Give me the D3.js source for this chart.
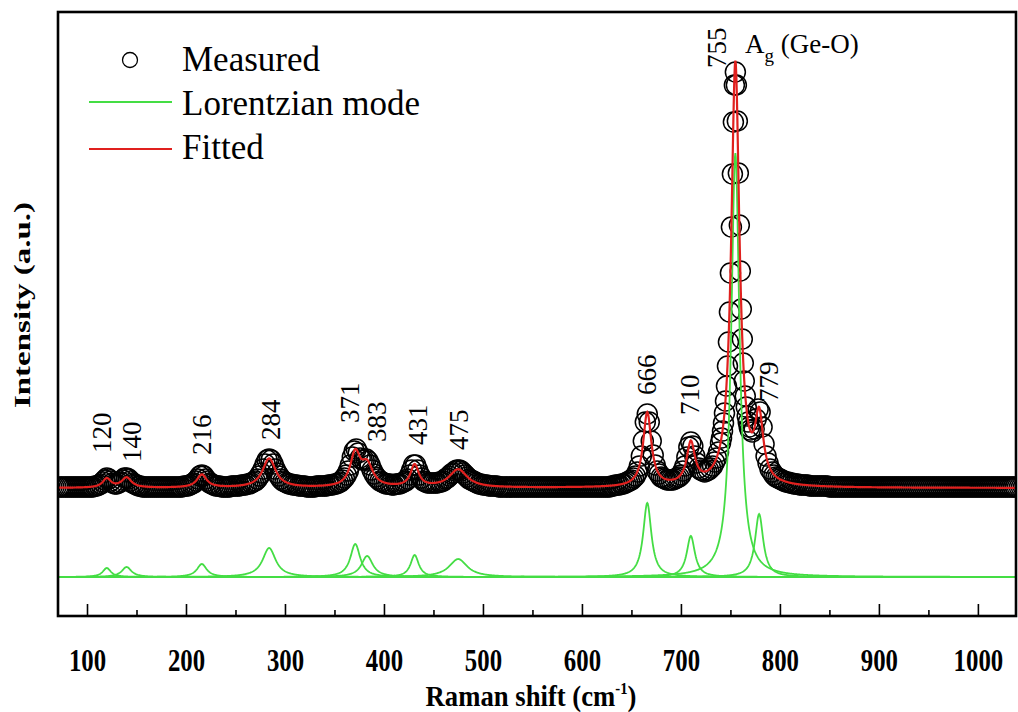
<!DOCTYPE html>
<html>
<head>
<meta charset="utf-8">
<script src="https://cdn.jsdelivr.net/npm/d3@7"></script>
<style>
  body { margin: 0; background: #fff; }
  text { font-family: 'Liberation Serif', 'Times New Roman', serif; }
</style>
</head>
<body>
<svg id="chart" width="1018" height="712"></svg>
<script>
// Lorentzian modes (position, height, half width)
const peakCenters = [120, 140, 216, 284, 371, 383, 431, 475, 666, 710, 755, 779];
const peakHeights = [9, 10, 13, 29, 33, 21, 22, 18, 74, 41, 424, 63];
const peakWidths = [5, 6, 6, 8, 6, 7, 5, 11, 5, 5, 5, 5];
const fitOffset = 89;

const majorTicks = [100, 200, 300, 400, 500, 600, 700, 800, 900, 1000];
const minorTicks = [150, 250, 350, 450, 550, 650, 750, 850, 950];

// label anchor (shift, intensity) for each peak label
const peakLabelAt = [
  [115, 124], [145.5, 115], [216, 122], [285, 137], [365.5, 154], [393, 135],
  [433.5, 132], [475, 127], [665.5, 182], [709, 162], [735.5, 509], [789, 175]
];

// measured spectrum [shift, intensity]
const measured = [
  [72,90],[74,90],[76,90],[78,90],[80,90],[82,90],[84,90],[86,90],[88,90],[90,90],[92,90],[94,90],
  [96,90],[98,90],[100,90],[102,90],[104,90],[106,90],[108,91],[110,91],[112,92],[114,93],[116,95],
  [118,97],[120,99],[122,98],[124,96],[126,94],[128,93],[130,93],[132,94],[134,95],[136,97],[138,99],
  [140,99],[142,98],[144,96],[146,94],[148,93],[150,92],[152,91],[154,91],[156,90],[158,90],[160,90],
  [162,90],[164,90],[166,90],[168,90],[170,90],[172,90],[174,90],[176,90],[178,90],[180,90],[182,90],
  [184,90],[186,90],[188,90],[190,90],[192,90],[194,90],[196,90],[198,91],[200,91],[202,91],[204,92],
  [206,93],[208,94],[210,96],[212,98],[214,101],[216,102],[218,101],[220,98],[222,96],[224,94],
  [226,93],[228,92],[230,91],[232,91],[234,91],[236,90],[238,90],[240,90],[242,90],[244,90],[246,91],
  [248,91],[250,91],[252,91],[254,91],[256,92],[258,92],[260,92],[262,93],[264,93],[266,94],[268,95],
  [270,96],[272,98],[274,101],[276,104],[278,108],[280,113],[282,117],[284,118],[286,117],[288,113],
  [290,108],[292,104],[294,101],[296,98],[298,96],[300,95],[302,94],[304,93],[306,93],[308,92],
  [310,92],[312,92],[314,91],[316,91],[318,91],[320,91],[322,90],[324,90],[326,90],[328,90],[330,90],
  [332,91],[334,91],[336,91],[338,91],[340,91],[342,91],[344,92],[346,92],[348,92],[350,93],[352,93],
  [354,94],[356,95],[358,97],[360,99],[362,102],[364,106],[366,112],[368,120],[370,126],[372,128],
  [374,124],[376,119],[378,117],[380,117],[382,118],[384,116],[386,112],[388,107],[390,103],[392,100],
  [394,98],[396,96],[398,95],[400,94],[402,93],[404,93],[406,93],[408,92],[410,92],[412,93],[414,93],
  [416,93],[418,94],[420,95],[422,96],[424,98],[426,102],[428,107],[430,112],[432,112],[434,107],
  [436,102],[438,99],[440,96],[442,95],[444,94],[446,94],[448,94],[450,94],[452,94],[454,94],[456,95],
  [458,95],[460,96],[462,98],[464,99],[466,101],[468,103],[470,104],[472,106],[474,107],[476,107],
  [478,106],[480,104],[482,102],[484,100],[486,98],[488,97],[490,96],[492,95],[494,94],[496,93],
  [498,93],[500,92],[502,92],[504,92],[506,91],[508,91],[510,91],[512,91],[514,91],[516,90],[518,90],
  [520,90],[522,90],[524,90],[526,90],[528,90],[530,90],[532,90],[534,90],[536,90],[538,90],[540,90],
  [542,90],[544,90],[546,90],[548,90],[550,90],[552,90],[554,90],[556,90],[558,90],[560,90],[562,90],
  [564,90],[566,90],[568,90],[570,90],[572,90],[574,90],[576,90],[578,90],[580,90],[582,90],[584,90],
  [586,90],[588,90],[590,90],[592,90],[594,90],[596,90],[598,90],[600,90],[602,90],[604,90],[606,90],
  [608,90],[610,90],[612,90],[614,90],[616,90],[618,90],[620,90],[622,90],[624,90],[626,90],[628,90],
  [630,91],[632,91],[634,92],[636,92],[638,92],[640,93],[642,93],[644,94],[646,95],[648,96],[650,97],
  [652,99],[654,101],[656,105],[658,111],[660,121],[662,136],[664,155],[666,163],[668,155],[670,136],
  [672,122],[674,112],[676,106],[678,103],[680,100],[682,99],[684,98],[686,97],[688,97],[690,97],
  [692,97],[694,98],[696,99],[698,100],[700,102],[702,106],[704,111],[706,120],[708,130],[710,135],
  [712,131],[714,121],[716,114],[718,109],[720,107],[722,106],[724,105],[726,106],[728,107],[730,109],
  [732,111],[734,115],[736,119],[738,125],[740,134],[741,139],[742,146],[743,154],[744,164],[745,176],
  [746,191],[747,211],[748,235],[749,265],[750,304],[751,350],[752,403],[753,455],[754,492],[755,505],
  [756,492],[757,456],[758,404],[759,352],[760,306],[761,268],[762,238],[763,214],[764,196],[765,181],
  [766,170],[767,161],[768,155],[769,150],[770,147],[772,145],[774,148],[776,158],[778,168],[780,165],
  [782,150],[784,133],[786,121],[788,114],[790,108],[792,105],[794,102],[796,100],[798,99],[800,98],
  [802,97],[804,96],[806,95],[808,95],[810,94],[812,94],[814,93],[816,93],[818,93],[820,92],[822,92],
  [824,92],[826,92],[828,92],[830,91],[832,91],[834,91],[836,91],[838,91],[840,91],[842,91],[844,91],
  [846,91],[848,91],[850,90],[852,90],[854,90],[856,90],[858,90],[860,90],[862,90],[864,90],[866,90],
  [868,90],[870,90],[872,90],[874,90],[876,90],[878,90],[880,90],[882,90],[884,90],[886,90],[888,90],
  [890,90],[892,90],[894,90],[896,90],[898,90],[900,90],[902,90],[904,90],[906,90],[908,90],[910,90],
  [912,90],[914,90],[916,90],[918,90],[920,90],[922,90],[924,90],[926,90],[928,90],[930,90],[932,90],
  [934,90],[936,90],[938,90],[940,90],[942,90],[944,90],[946,90],[948,90],[950,90],[952,90],[954,90],
  [956,90],[958,90],[960,90],[962,90],[964,90],[966,90],[968,90],[970,90],[972,90],[974,90],[976,90],
  [978,90],[980,90],[982,90],[984,90],[986,90],[988,90],[990,90],[992,90],[994,90],[996,90],[998,90],
  [1000,90],[1002,90],[1004,90],[1006,90],[1008,90],[1010,90],[1012,90],[1014,90],[1016,90],[1018,90],
  [1020,90],[1022,90],[1024,90],[1026,90],[1028,90],[1030,90],[1032,90],[1034,90],[1036,90],[1038,90]
];

const svg = d3.select('#chart');
const plot = { left: 58, right: 1016, top: 12, bottom: 616 };

const x = d3.scaleLinear().domain([70.7, 1038.5]).range([plot.left, plot.right]);
const y = d3.scaleLinear().domain([-39, 565]).range([plot.bottom, plot.top]);

const green = '#44dd44';
const red = '#e0201e';

svg.append('defs').append('clipPath').attr('id', 'clip')
  .append('rect')
  .attr('x', plot.left).attr('y', plot.top)
  .attr('width', plot.right - plot.left).attr('height', plot.bottom - plot.top);

const lorentz = (s, i) => {
  const w = peakWidths[i];
  return peakHeights[i] * w * w / ((s - peakCenters[i]) ** 2 + w * w);
};

const grid = d3.range(70.5, 1039, 0.5);
const modes = peakCenters.map((c, i) => grid.map(s => [s, lorentz(s, i)]));
const fitted = grid.map(s => [s, fitOffset + d3.sum(peakCenters, (c, i) => lorentz(s, i))]);

const line = d3.line().x(d => x(d[0])).y(d => y(d[1]));

const g = svg.append('g').attr('clip-path', 'url(#clip)');

// measured points
g.selectAll('circle.meas')
  .data(measured)
  .enter()
  .append('circle')
  .attr('class', 'meas')
  .attr('cx', d => x(d[0]))
  .attr('cy', d => y(d[1]))
  .attr('r', 10)
  .attr('fill', 'none')
  .attr('stroke', '#000')
  .attr('stroke-width', 1.5);

// Lorentzian modes
g.selectAll('path.mode')
  .data(modes)
  .enter()
  .append('path')
  .attr('class', 'mode')
  .attr('d', line)
  .attr('fill', 'none')
  .attr('stroke', green)
  .attr('stroke-width', 1.8);

// fitted curve
g.append('path')
  .datum(fitted)
  .attr('d', line)
  .attr('fill', 'none')
  .attr('stroke', red)
  .attr('stroke-width', 2.2);

// peak labels
svg.selectAll('text.peak')
  .data(peakCenters)
  .enter()
  .append('text')
  .attr('class', 'peak')
  .attr('transform', (d, i) => `translate(${x(peakLabelAt[i][0])},${y(peakLabelAt[i][1])}) rotate(-90)`)
  .attr('dy', '0.35em')
  .style('font-size', '27px')
  .text(d => d);

// A_g (Ge-O)
const ag = svg.append('text')
  .attr('x', 745).attr('y', 53)
  .style('font-size', '27px');
ag.append('tspan').text('A');
ag.append('tspan').attr('dy', 9).style('font-size', '19px').text('g');
ag.append('tspan').attr('dy', -9).text(' (Ge-O)');

// axes
const xAxis = svg.append('g')
  .attr('transform', `translate(0,${plot.bottom})`)
  .call(d3.axisBottom(x).tickValues(majorTicks).tickSizeInner(-12).tickSizeOuter(0)
    .tickFormat(d3.format('d')));
xAxis.select('.domain').remove();
xAxis.selectAll('line').attr('stroke-width', 1.6);
xAxis.selectAll('text')
  .attr('y', 55).attr('dy', null)
  .attr('transform', 'scale(0.8,1)')
  .style('font-size', '31px')
  .style('font-weight', 'bold')
  .style('font-family', "'Liberation Serif', serif")
  .attr('fill', '#000');

const xMinor = svg.append('g')
  .attr('transform', `translate(0,${plot.bottom})`)
  .call(d3.axisBottom(x).tickValues(minorTicks).tickSize(-6).tickFormat(''));
xMinor.select('.domain').remove();
xMinor.selectAll('line').attr('stroke-width', 1.6);

// frame
svg.append('rect')
  .attr('x', plot.left).attr('y', plot.top)
  .attr('width', plot.right - plot.left).attr('height', plot.bottom - plot.top)
  .attr('fill', 'none').attr('stroke', '#000').attr('stroke-width', 2.6);

// axis titles
const xt = svg.append('text')
  .attr('transform', 'translate(531,706) scale(0.92,1)')
  .attr('text-anchor', 'middle')
  .style('font-size', '29px').style('font-weight', 'bold');
xt.append('tspan').text('Raman shift (cm');
xt.append('tspan').attr('dy', -12).style('font-size', '16px').text('-1');
xt.append('tspan').attr('dy', 12).text(')');

svg.append('text')
  .attr('transform', 'translate(22,305) rotate(-90) scale(1,0.7)')
  .attr('text-anchor', 'middle')
  .attr('dy', '0.35em')
  .style('font-size', '33px').style('font-weight', 'bold')
  .text('Intensity (a.u.)');

// legend
const leg = svg.append('g');
leg.append('circle').attr('cx', 130).attr('cy', 60).attr('r', 7.5)
  .attr('fill', 'none').attr('stroke', '#000').attr('stroke-width', 1.3);
leg.append('line').attr('x1', 89).attr('x2', 172).attr('y1', 102).attr('y2', 102)
  .attr('stroke', green).attr('stroke-width', 2);
leg.append('line').attr('x1', 89).attr('x2', 172).attr('y1', 149).attr('y2', 149)
  .attr('stroke', red).attr('stroke-width', 2);
const legText = ['Measured', 'Lorentzian mode', 'Fitted'];
leg.selectAll('text.leg')
  .data(legText)
  .enter()
  .append('text')
  .attr('class', 'leg')
  .attr('x', 182)
  .attr('y', (d, i) => 71 + i * 44)
  .style('font-size', '35px')
  .text(d => d);
</script>
</body>
</html>
